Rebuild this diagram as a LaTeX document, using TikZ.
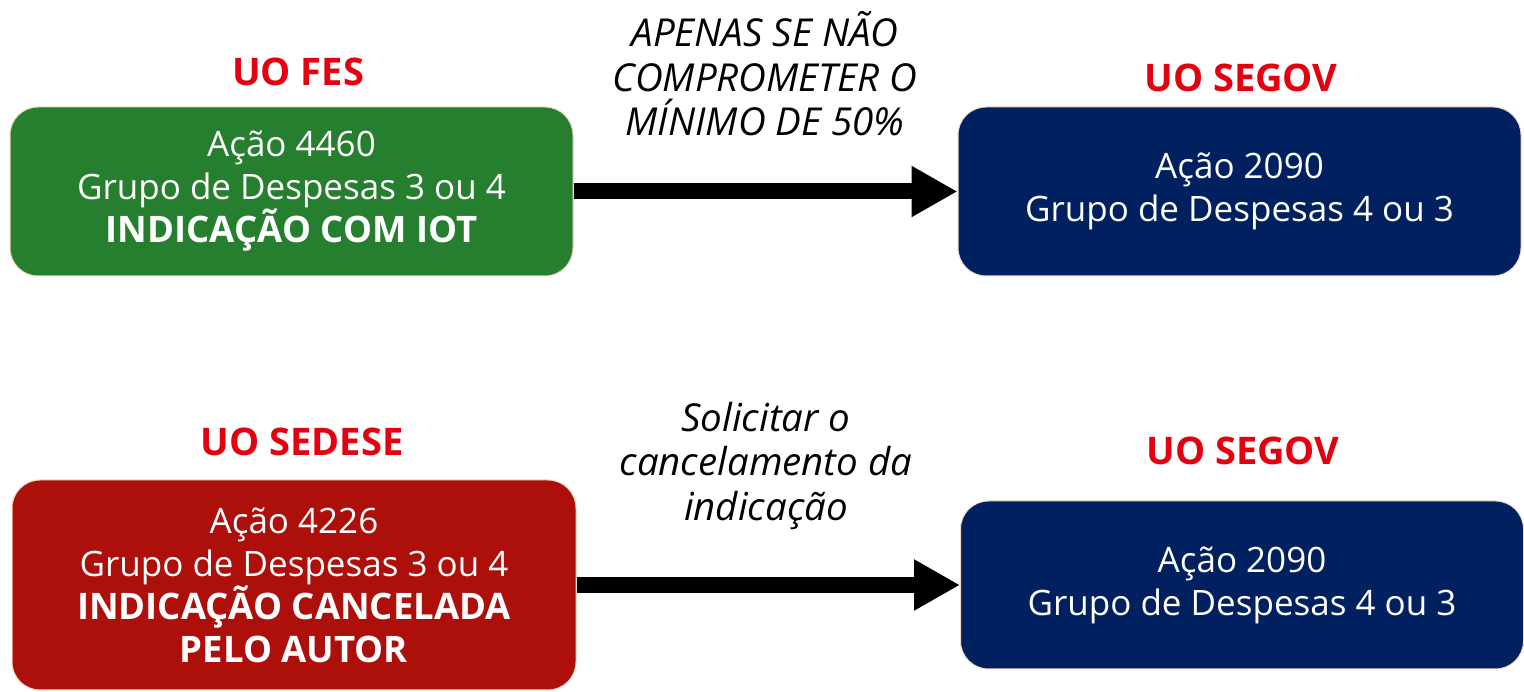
\documentclass[tikz,border=0pt]{standalone}
\usepackage{fontspec}
\setmainfont{Open Sans}
\usetikzlibrary{arrows.meta}
\definecolor{fesgreen}{HTML}{267F2E}
\definecolor{sedesered}{HTML}{AD0F0B}
\definecolor{segovblue}{HTML}{002060}
\definecolor{titlered}{HTML}{E3000F}
\definecolor{boxedge}{HTML}{F6D8C4}
\newcommand{\destaque}[1]{{\fontsize{36.5}{43}\selectfont\bfseries #1}}

\begin{document}
\begin{tikzpicture}[x=1pt,y=1pt,>={Triangle[length=46pt,width=48pt]},node distance=948pt,font=\fontsize{35}{43}\selectfont]
\tikzstyle{every node}=[align=center]
\tikzstyle{uo box}=[rectangle,rounded corners=28pt,draw=boxedge,line width=1pt,text=white,minimum width=563pt,minimum height=169pt,inner sep=0pt]
\tikzstyle{uo title}=[text=titlered,font=\fontsize{38}{46}\selectfont\bfseries]
\tikzstyle{note}=[text=black,font=\fontsize{38.5}{44.5}\selectfont\itshape]
\useasboundingbox (0,0) rectangle (1524,692);
% primeira linha
\node[uo box,fill=fesgreen] (FES) at (291.5,500.5) {Ação 4460\\Grupo de Despesas 3 ou 4\\\destaque{INDICAÇÃO COM IOT}};
\node[uo box,fill=segovblue] [right of=FES] (SEGOVA) {Ação 2090\\Grupo de Despesas 4 ou 3};
\node[uo title] (tFES) at (298,620) {UO FES};
\node[uo title] (tSEGOVA) at (1241,614) {UO SEGOV};
\node[note] (condA) at (765,618) {APENAS SE NÃO\\COMPROMETER O\\MÍNIMO DE 50\%};
% segunda linha
\node[uo box,fill=sedesered,minimum width=564pt,minimum height=210pt] (SEDESE) at (294,107) {Ação 4226\\Grupo de Despesas 3 ou 4\\\destaque{INDICAÇÃO CANCELADA}\\\destaque{PELO AUTOR}};
\node[uo box,fill=segovblue,minimum height=168pt] [right of=SEDESE] (SEGOVB) {Ação 2090\\Grupo de Despesas 4 ou 3};
\node[uo title] (tSEDESE) at (302,250) {UO SEDESE};
\node[uo title] (tSEGOVB) at (1243,241) {UO SEGOV};
\node[note] (condB) at (766,226) {Solicitar o\\cancelamento da\\indicação};
% setas
\path[->,line width=16pt,draw=black]
  (FES) edge (SEGOVA)
  (SEDESE) edge (SEGOVB);
\end{tikzpicture}
\end{document}
